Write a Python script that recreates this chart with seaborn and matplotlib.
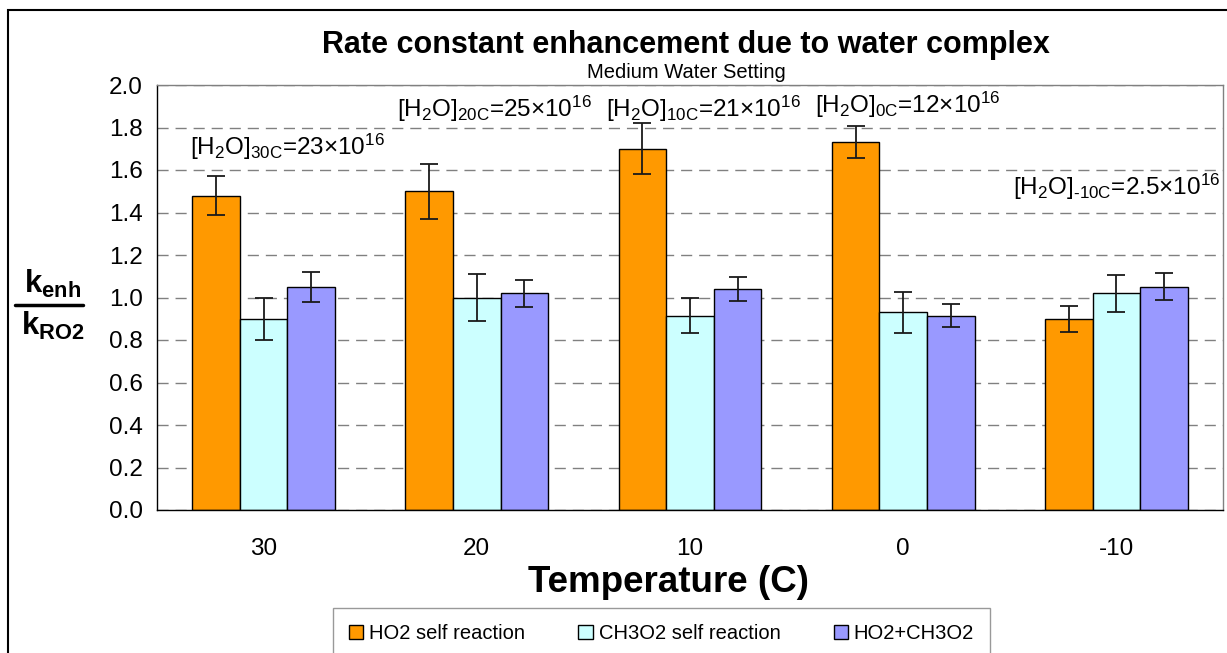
import matplotlib
matplotlib.use("Agg")
import matplotlib.pyplot as plt
from matplotlib.patches import Patch, Rectangle
from matplotlib.lines import Line2D
import numpy as np
import pandas as pd
import seaborn as sns

# ---- data -------------------------------------------------------------
temperatures = ["30", "20", "10", "0", "-10"]
series_names = ["HO2 self reaction", "CH3O2 self reaction", "HO2+CH3O2"]

ho2_self = [1.48, 1.50, 1.70, 1.73, 0.90]
ho2_self_err = [0.09, 0.13, 0.12, 0.075, 0.062]
ch3o2_self = [0.90, 1.00, 0.915, 0.93, 1.02]
ch3o2_self_err = [0.10, 0.11, 0.083, 0.095, 0.087]
ho2_ch3o2 = [1.05, 1.02, 1.04, 0.915, 1.05]
ho2_ch3o2_err = [0.072, 0.064, 0.058, 0.053, 0.064]

water_labels = [
    r"[H$_2$O]$_{\text{30C}}$=23×10$^{16}$",
    r"[H$_2$O]$_{\text{20C}}$=25×10$^{16}$",
    r"[H$_2$O]$_{\text{10C}}$=21×10$^{16}$",
    r"[H$_2$O]$_{\text{0C}}$=12×10$^{16}$",
    r"[H$_2$O]$_{\text{-10C}}$=2.5×10$^{16}$",
]

colors = ["#FF9900", "#CCFFFF", "#9999FF"]

# ---- style ------------------------------------------------------------
sns.set_style("white")
plt.rcParams["font.family"] = ["Liberation Sans", "DejaVu Sans"]
plt.rcParams["mathtext.fontset"] = "custom"
plt.rcParams["mathtext.rm"] = "Liberation Sans"
plt.rcParams["mathtext.it"] = "Liberation Sans:italic"
plt.rcParams["mathtext.bf"] = "Liberation Sans:bold"
plt.rcParams["mathtext.default"] = "regular"
plt.rcParams["lines.scale_dashes"] = False
plt.rcParams["text.color"] = "black"
plt.rcParams["xtick.labelcolor"] = "black"
plt.rcParams["ytick.labelcolor"] = "black"
plt.rcParams["xtick.color"] = "black"
plt.rcParams["ytick.color"] = "black"

W, H = 1227, 653
fig = plt.figure(figsize=(W / 100, H / 100), dpi=100)
ax = fig.add_axes([157 / W, 1 - 510 / H, (1223 - 157) / W, (510 - 85) / H])

df = pd.DataFrame({
    "Temperature": temperatures * 3,
    "value": ho2_self + ch3o2_self + ho2_ch3o2,
    "series": [s for s in series_names for _ in temperatures],
})
errors = {
    series_names[0]: ho2_self_err,
    series_names[1]: ch3o2_self_err,
    series_names[2]: ho2_ch3o2_err,
}

sns.barplot(
    data=df, x="Temperature", y="value", hue="series",
    order=temperatures, hue_order=series_names,
    palette=colors, width=0.67, gap=0, errorbar=None,
    edgecolor="black", linewidth=1.0, saturation=1, ax=ax, legend=False,
)

# error bars centred on each bar
for name, container in zip(series_names, ax.containers):
    xs = [b.get_x() + b.get_width() / 2 for b in container]
    ys = [b.get_height() for b in container]
    ax.errorbar(xs, ys, yerr=errors[name], fmt="none", ecolor="#1a1a1a",
                elinewidth=1.3, capsize=6.5, capthick=1.3, zorder=5)

# ---- axes -------------------------------------------------------------
ax.set_xlim(-0.5, len(temperatures) - 0.5)
ax.set_ylim(0, 2.0)
ax.set_yticks(np.arange(0, 2.01, 0.2))
ax.set_yticklabels([f"{v:.1f}" for v in np.arange(0, 2.01, 0.2)], fontsize=17.5)
ax.set_xticks(range(len(temperatures)))
ax.set_xticklabels(temperatures, fontsize=17.5)
ax.set_xticks(np.arange(-0.5, len(temperatures), 1.0), minor=True)
ax.tick_params(axis="x", which="major", length=0, pad=20)
ax.tick_params(axis="x", which="minor", length=6, width=1, color="black", direction="out")
ax.tick_params(axis="y", length=6, width=1, color="black", direction="out", pad=4)
ax.set_xlabel("")
ax.set_ylabel("")

ax.grid(axis="y", color="#808080", linestyle=(0, (8, 5)), linewidth=1.0)
ax.grid(axis="x", visible=False)
ax.set_axisbelow(True)
for side in ("left", "bottom"):
    ax.spines[side].set_color("black")
    ax.spines[side].set_linewidth(1.0)
for side in ("top", "right"):
    ax.spines[side].set_color("#808080")
    ax.spines[side].set_linewidth(1.0)

# water concentration annotations
label_pos = [(-0.345, 1.67), (0.626, 1.851), (1.606, 1.851), (2.586, 1.867), (3.515, 1.482)]
for (lx, ly), txt in zip(label_pos, water_labels):
    ax.text(lx, ly, txt, fontsize=17.5, ha="left", va="baseline", zorder=6)

# ---- titles and labels -------------------------------------------------
fig.text(686 / W, 1 - 45 / H, "Rate constant enhancement due to water complex",
         fontsize=22, fontweight="bold", ha="center", va="center")
fig.text(686 / W, 1 - 73 / H, "Medium Water Setting", fontsize=14.5,
         ha="center", va="center")
fig.text(669 / W, 1 - 582 / H, "Temperature (C)", fontsize=26.5,
         fontweight="bold", ha="center", va="center")

# fraction-style y label
fig.text(53 / W, 1 - 284 / H, r"$\mathbf{k}_{\mathbf{enh}}$", fontsize=22.5,
         ha="center", va="center")
fig.text(53 / W, 1 - 326 / H, r"$\mathbf{k}_{\mathbf{RO2}}$", fontsize=22.5,
         ha="center", va="center")
fig.add_artist(Line2D([15 / W, 83 / W], [1 - 305 / H, 1 - 305 / H],
                      transform=fig.transFigure, color="black", linewidth=2.5))

# outer frame
fig.add_artist(Rectangle((8 / W, -0.02), 1.1, 1 - 10 / H + 0.02,
                         transform=fig.transFigure, fill=False,
                         edgecolor="black", linewidth=1.5))

# legend
handles = [Patch(facecolor=c, edgecolor="black", linewidth=1.0) for c in colors]
leg = fig.legend(handles, series_names, loc="upper left", ncol=3,
                 bbox_to_anchor=(333 / W, 1 - 608 / H, (990 - 333) / W, 0.0),
                 mode="expand", fontsize=14.5, frameon=True, fancybox=False,
                 handlelength=0.7, handleheight=0.7, handletextpad=0.3,
                 borderpad=0.8, borderaxespad=0.0, columnspacing=1.0)
leg.get_frame().set_edgecolor("#808080")
leg.get_frame().set_linewidth(1.0)

fig.savefig("out.png", dpi=100)
